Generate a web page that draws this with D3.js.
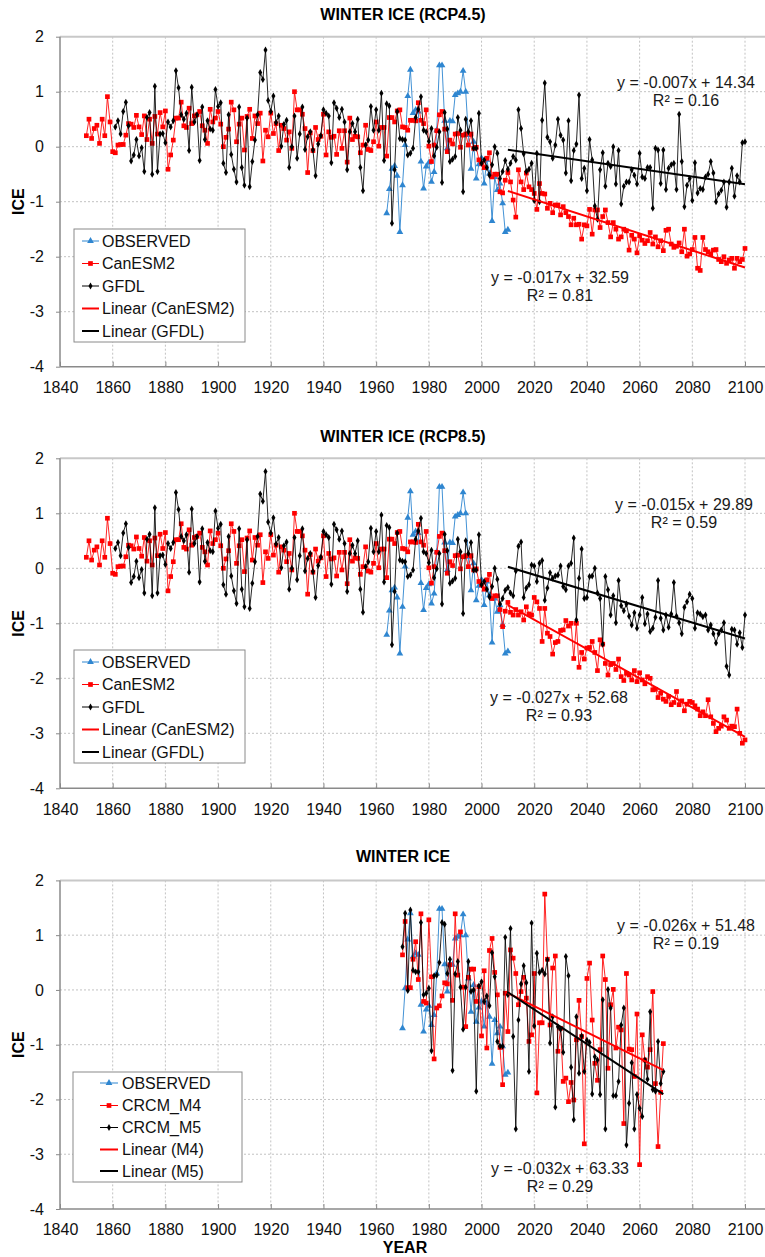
<!DOCTYPE html>
<html>
<head>
<meta charset="utf-8">
<script src="https://cdn.jsdelivr.net/npm/d3@7"></script>
<style>
  body { margin: 0; background: #fff; }
  svg { display: block; font-family: "Liberation Sans", Arial, sans-serif; }
</style>
</head>
<body>
<svg id="chart" width="765" height="1257"></svg>
<script>
// tick labels
var xTicks = d3.range(1840, 2101, 20);
var yTicks = [-4, -3, -2, -1, 0, 1, 2];

// observed winter ice, 1964-2010
var obsStart = 1964;
var observed = [-1.21,-0.77,-0.40,-0.35,-0.53,-1.55,-0.70,0.03,0.92,1.40,
  0.61,0.67,0.64,-0.27,-0.76,-0.36,-0.29,-0.64,-0.46,0.30,
  1.48,1.48,0.47,-0.03,0.47,0.46,0.94,0.97,1.00,1.38,
  1.00,0.21,-0.40,0.09,-0.58,-0.32,-0.21,-0.67,-0.24,-0.49,
  -1.35,-0.55,-0.79,-0.67,-1.03,-1.55,-1.51];

// CanESM2 historical run, 1850-2005
var canStart = 1850;
var canHist = [0.20,0.50,0.15,0.33,0.39,0.06,0.50,0.20,0.91,0.45,
  -0.09,-0.11,0.03,0.04,0.04,0.21,0.42,0.41,0.35,0.57,
  0.36,0.22,0.56,0.13,0.50,0.06,0.55,0.23,0.62,0.36,
  0.65,-0.41,-0.15,0.12,0.52,0.52,0.81,0.38,0.35,0.70,
  0.42,0.56,0.58,0.64,0.38,0.30,0.06,0.68,0.45,0.52,
  0.64,0.41,0.00,0.17,0.32,0.81,0.67,0.09,0.41,0.52,
  -0.06,0.55,0.68,0.15,0.56,0.42,0.61,-0.26,0.30,0.18,
  0.61,0.24,0.42,-0.07,0.39,0.33,0.12,0.27,-0.03,1.00,
  0.67,0.67,0.59,0.33,-0.47,0.25,-0.07,0.35,0.13,0.19,
  0.59,-0.15,0.27,0.17,0.19,-0.14,0.29,-0.03,0.29,-0.28,
  0.52,0.13,0.19,0.18,-0.11,0.03,0.39,-0.05,-0.07,0.09,
  0.45,0.01,0.35,0.35,-0.17,0.53,0.53,0.45,0.65,0.67,
  0.36,0.35,0.30,0.48,0.48,0.47,0.80,0.48,0.42,0.67,
  0.01,-0.27,0.03,0.29,0.58,0.64,0.32,-0.09,0.12,0.05,
  0.23,0.24,-0.01,0.21,0.23,0.03,0.23,-0.03,-0.01,-0.24,
  -0.30,-0.38,-0.21,-0.11,-0.55,-0.50];

// GFDL historical run, 1861-2005
var gfdlStart = 1861;
var gfdlHist = [0.36,0.47,0.23,0.64,0.81,0.38,-0.26,-0.15,0.13,-0.17,
  -0.02,-0.45,0.53,0.62,-0.50,1.10,-0.45,0.23,0.24,0.07,
  0.45,0.36,0.47,1.38,1.07,0.58,0.50,0.61,-0.07,1.08,
  0.45,0.58,-0.25,0.72,0.13,0.47,0.32,0.30,1.04,0.73,
  0.80,-0.30,-0.47,0.58,-0.14,-0.41,-0.64,0.72,-0.38,-0.70,
  0.52,-0.73,-0.27,0.12,0.58,1.35,1.22,1.76,0.84,0.64,
  0.92,0.44,0.56,0.01,0.41,0.48,-0.38,0.00,0.56,
  -0.21,0.23,0.72,-0.05,0.18,0.27,-0.06,-0.53,0.05,0.20,
  0.67,0.61,0.56,-0.29,0.80,0.70,0.53,0.68,0.45,-0.42,
  0.27,0.42,0.27,0.50,-0.38,-0.80,0.03,0.12,0.73,0.30,
  0.67,0.30,0.97,-0.25,0.78,0.74,-1.39,-0.42,0.64,0.15,
  0.13,0.12,-0.15,-0.12,-0.03,0.53,0.68,0.91,0.30,0.27,
  0.10,0.33,-0.17,-0.01,0.27,-0.65,0.62,0.32,-0.27,-0.23,
  -0.18,0.53,0.30,-0.82,0.50,0.27,0.47,-0.03,-0.03,0.61,
  -0.30,-0.24,-0.38,-0.52,-0.33,0.00];

// RCP4.5 projections, 2006-2100
var can45 = [-0.50,-0.82,-0.84,-0.61,-0.47,-0.64,-0.97,-1.28,
  -0.42,-0.64,-0.78,-0.48,-0.73,-0.78,-0.85,-1.14,-0.67,-0.85,
  -0.86,-1.12,-1.03,-1.20,-1.06,-1.06,-1.24,-1.09,-1.20,-1.27,
  -1.42,-1.30,-1.42,-1.41,-1.68,-1.42,-1.44,-1.14,-1.59,-1.15,
  -1.15,-1.47,-1.27,-1.15,-1.38,-1.64,-1.38,-1.50,-1.68,-1.64,
  -1.50,-1.53,-1.88,-1.61,-1.68,-1.93,-1.62,-1.70,-1.76,-1.71,
  -1.56,-1.77,-1.64,-1.82,-1.71,-1.89,-1.52,-1.50,-1.77,-1.83,
  -1.81,-1.75,-1.91,-1.50,-1.99,-1.95,-1.87,-1.65,-2.21,-2.25,
  -1.65,-1.87,-1.91,-1.95,-1.88,-1.87,-2.05,-2.09,-2.00,-2.12,
  -2.06,-2.03,-2.21,-2.03,-2.09,-2.05,-1.85];
var gfdl45 = [-0.12,-0.58,-0.45,-0.25,-0.41,-0.30,-0.18,-0.24,
  0.67,0.33,-0.13,-0.45,-0.41,-0.30,-0.98,-0.12,-1.00,0.48,
  1.16,0.17,0.09,-0.21,0.03,0.50,0.21,0.12,-0.48,0.47,
  -0.62,-0.07,0.05,0.94,-0.58,-0.39,-0.80,0.13,-0.24,-1.08,
  -1.32,-0.42,-0.11,-0.72,-0.30,-0.36,0.00,-0.68,-0.07,-1.04,
  -0.72,-0.64,-0.64,-0.42,-0.52,-0.68,-0.12,-0.55,-0.58,-0.38,
  -0.38,-1.12,-0.03,-0.06,-0.67,-0.06,-0.78,-0.39,-0.33,-0.30,
  -0.78,0.59,-0.27,-1.09,-0.70,-0.58,-0.98,-0.29,-0.84,-0.76,
  -0.78,-0.55,-0.50,-0.27,-0.48,-1.00,-0.86,-0.79,-0.64,-1.10,
  -0.64,-0.39,-0.90,-0.53,-0.64,0.07,0.09];

// RCP8.5 projections, 2006-2100
var can85 = [-0.50,-0.75,-1.06,-0.78,-0.62,-0.80,-0.85,-0.75,-0.85,
  -0.79,-0.94,-0.70,-0.83,-0.85,-0.53,-0.61,-0.73,-1.33,-0.73,
  -1.18,-1.24,-1.56,-1.35,-1.33,-1.13,-1.12,-0.95,-1.05,-1.00,
  -1.64,-1.00,-1.80,-1.53,-1.65,-1.45,-1.44,-1.33,-1.53,-1.86,
  -1.30,-1.38,-1.73,-1.94,-1.75,-1.73,-1.84,-1.65,-1.97,-2.04,
  -1.91,-1.94,-2.03,-1.86,-2.06,-1.90,-2.03,-2.10,-1.97,-2.00,
  -2.21,-2.20,-2.35,-2.27,-2.38,-2.42,-2.33,-2.48,-2.44,-2.24,
  -2.48,-2.41,-2.59,-2.47,-2.42,-2.44,-2.50,-2.56,-2.68,-2.61,
  -2.68,-2.39,-2.70,-2.82,-2.97,-2.91,-2.87,-2.70,-2.76,-2.91,
  -2.87,-2.88,-2.56,-3.00,-3.18,-3.12];
var gfdl85 = [-0.20,-0.65,-0.55,-0.40,-0.35,-0.45,-0.50,-0.05,0.40,
  0.48,-0.53,-0.36,-0.30,0.06,0.04,-0.24,0.09,0.14,-0.58,
  -0.36,-0.08,-0.18,-0.14,-0.12,0.04,-0.33,-0.39,0.04,0.09,
  0.55,-0.94,-0.18,0.35,-0.55,-0.53,-0.15,-0.14,0.00,-0.45,
  -0.55,-1.38,-0.15,-0.39,-0.85,-0.50,-0.99,-0.22,-0.68,-0.77,
  -0.65,-0.87,-1.03,-0.81,-1.09,-0.85,-0.53,-1.01,-0.83,-1.15,
  -1.09,-0.89,-0.22,-0.91,-1.12,-0.85,-1.07,-0.83,-0.26,-0.87,
  -0.99,-1.19,-0.71,-0.61,-0.47,-0.55,-1.09,-0.81,-0.83,-0.88,
  -0.85,-1.12,-1.03,-1.19,-1.36,-1.19,-1.12,-0.99,-1.78,-1.94,
  -1.11,-1.12,-1.38,-1.17,-1.44,-0.85];

// CRCM regional runs, 1970-2069
var crcmStart = 1970;
var crcmM4 = [0.64,1.25,0.04,0.04,0.56,0.88,0.19,1.39,-0.21,-0.24,
  1.28,0.24,-1.26,-0.33,-0.29,-0.11,0.13,0.11,0.46,-0.19,
  1.39,0.27,1.06,0.05,-0.67,0.23,0.38,0.38,-0.21,0.06,
  -0.84,0.35,-1.06,0.72,0.94,0.32,-0.09,-1.05,-1.73,-0.06,
  -0.76,0.73,0.58,0.30,-0.27,-0.03,0.23,-0.15,-0.94,-0.82,
  0.30,-1.88,-0.60,-0.60,1.75,0.56,-0.64,0.40,0.62,-1.12,
  -0.70,-1.67,-1.61,-2.04,-1.69,-2.01,-0.91,-0.19,-0.85,-2.81,
  0.21,0.49,-0.55,-1.34,-1.65,-1.09,0.62,0.19,-1.43,-0.27,
  0.01,-1.06,-0.68,-0.73,-2.44,0.30,-1.08,-1.09,-1.58,-0.44,
  -3.19,-0.82,-1.28,-1.41,-1.09,-0.03,-1.71,-2.86,-1.87,-0.98];
var crcmM5 = [0.79,1.40,-0.01,1.46,0.36,0.33,0.33,1.23,-0.09,-0.06,
  0.03,-1.11,0.26,0.27,0.50,1.23,1.20,0.30,0.56,-1.47,
  0.29,0.52,0.05,-0.72,0.05,0.52,-0.03,0.00,-1.85,0.07,
  0.15,-0.21,-0.11,-0.29,0.68,0.24,-0.94,-1.03,-1.03,0.96,
  -0.09,1.12,-0.85,-2.54,-0.55,0.11,0.44,0.13,-1.49,1.22,
  -0.66,0.67,0.32,0.36,0.29,0.55,-0.97,-0.49,-2.14,-0.67,
  -0.72,-1.14,0.61,0.26,-1.41,-2.37,-0.49,-1.52,-0.84,-1.49,
  -0.92,-0.96,-1.90,-1.22,-1.28,-1.91,-0.18,-2.54,0.01,-0.33,
  -1.93,-1.93,-1.67,-0.64,-0.33,-2.83,-2.07,-1.33,-2.54,-1.91,
  -2.16,-2.31,-1.28,-1.63,-0.40,-1.82,-1.85,-0.94,-1.71,-1.49];

var trendFrom = 2010;

function toPoints(start, values) {
  return values.map(function (v, i) { return { year: start + i, value: v }; });
}

var obsPts = toPoints(obsStart, observed);

var panels = [
  {
    title: "WINTER ICE (RCP4.5)", titleY: 20, top: 36.7, bottom: 366.7,
    series: [
      { name: "OBSERVED", pts: obsPts, color: "#2f86d0", mark: "tri" },
      { name: "CanESM2", pts: toPoints(canStart, canHist.concat(can45)), color: "#ff0000", mark: "sq", trend: true },
      { name: "GFDL", pts: toPoints(gfdlStart, gfdlHist.concat(gfdl45)), color: "#000000", mark: "dia", trend: true }
    ],
    trendNames: ["Linear (CanESM2)", "Linear (GFDL)"],
    eqTop: ["y = -0.007x + 14.34", "R\u00b2 = 0.16"], eqTopPos: [686, 88],
    eqBot: ["y = -0.017x + 32.59", "R\u00b2 = 0.81"], eqBotPos: [560, 283],
    legend: { x: 74, y: 229, w: 171, h: 113, s1: 82, s2: 99, tx: 102, rows: [241, 263.5, 286, 308.5, 331] }
  },
  {
    title: "WINTER ICE (RCP8.5)", titleY: 442, top: 458.3, bottom: 788.3,
    series: [
      { name: "OBSERVED", pts: obsPts, color: "#2f86d0", mark: "tri" },
      { name: "CanESM2", pts: toPoints(canStart, canHist.concat(can85)), color: "#ff0000", mark: "sq", trend: true },
      { name: "GFDL", pts: toPoints(gfdlStart, gfdlHist.concat(gfdl85)), color: "#000000", mark: "dia", trend: true }
    ],
    trendNames: ["Linear (CanESM2)", "Linear (GFDL)"],
    eqTop: ["y = -0.015x + 29.89", "R\u00b2 = 0.59"], eqTopPos: [684, 510],
    eqBot: ["y = -0.027x + 52.68", "R\u00b2 = 0.93"], eqBotPos: [559, 703],
    legend: { x: 74, y: 650, w: 171, h: 113, s1: 82, s2: 99, tx: 102, rows: [662, 684.5, 707, 729.5, 752] }
  },
  {
    title: "WINTER ICE", titleY: 862, top: 880.4, bottom: 1209,
    series: [
      { name: "OBSERVED", pts: obsPts.filter(function (d) { return d.year >= crcmStart; }), color: "#2f86d0", mark: "tri" },
      { name: "CRCM_M4", pts: toPoints(crcmStart, crcmM4), color: "#ff0000", mark: "sq", trend: true },
      { name: "CRCM_M5", pts: toPoints(crcmStart, crcmM5), color: "#000000", mark: "dia", trend: true }
    ],
    trendNames: ["Linear (M4)", "Linear (M5)"],
    eqTop: ["y = -0.026x + 51.48", "R\u00b2 = 0.19"], eqTopPos: [686, 931],
    eqBot: ["y = -0.032x + 63.33", "R\u00b2 = 0.29"], eqBotPos: [560, 1174],
    legend: { x: 73, y: 1072, w: 169, h: 110, s1: 100, s2: 118, tx: 122, rows: [1083, 1105.5, 1127.5, 1149.5, 1171] }
  }
];

var svg = d3.select("#chart");
svg.append("rect").attr("width", 765).attr("height", 1257).attr("fill", "#fff");

var x = d3.scaleLinear().domain([1840, 2100]).range([60, 745]);

function markPath(kind) {
  if (kind === "tri") return d3.symbol().type(d3.symbolTriangle).size(20)();
  if (kind === "dia") return d3.symbol().type(d3.symbolDiamond).size(14)();
  return d3.symbol().type(d3.symbolSquare).size(22)();
}

// least squares fit over the projection years
function fit(pts) {
  var xs = pts.map(function (d) { return d.year; });
  var ys = pts.map(function (d) { return d.value; });
  var mx = d3.mean(xs), my = d3.mean(ys);
  var sxy = d3.sum(xs, function (v, i) { return (v - mx) * (ys[i] - my); });
  var sxx = d3.sum(xs, function (v) { return (v - mx) * (v - mx); });
  var b = sxy / sxx;
  return function (yr) { return my + b * (yr - mx); };
}

panels.forEach(function (p) {
  var y = d3.scaleLinear().domain([-4, 2]).range([p.bottom, p.top]);
  var g = svg.append("g");

  // title
  g.append("text").attr("x", 403).attr("y", p.titleY)
    .attr("text-anchor", "middle").attr("font-size", 16).attr("font-weight", "bold")
    .text(p.title);

  // grid
  g.selectAll(".vg").data(xTicks.slice(1)).enter().append("line")
    .attr("x1", function (d) { return x(d); }).attr("x2", function (d) { return x(d); })
    .attr("y1", p.top).attr("y2", p.bottom)
    .attr("stroke", "#c2c2c2").attr("stroke-width", 1).attr("stroke-dasharray", "2,2");
  g.selectAll(".hg").data(yTicks.slice(1, -1)).enter().append("line")
    .attr("x1", 60).attr("x2", 765)
    .attr("y1", function (d) { return y(d); }).attr("y2", function (d) { return y(d); })
    .attr("stroke", "#c2c2c2").attr("stroke-width", 1).attr("stroke-dasharray", "2,2");

  // frame
  g.append("line").attr("x1", 60).attr("x2", 765).attr("y1", p.top).attr("y2", p.top)
    .attr("stroke", "#c8c8c8").attr("stroke-width", 2);

  // axes
  var ax = g.append("g").attr("transform", "translate(0," + p.bottom + ")")
    .call(d3.axisBottom(x).tickValues(xTicks).tickFormat(function (d) { return String(d); })
      .tickSizeInner(-5).tickSizeOuter(0).tickPadding(15));
  var ay = g.append("g").attr("transform", "translate(60,0)")
    .call(d3.axisLeft(y).tickValues(yTicks).tickFormat(function (d) { return String(d); })
      .tickSizeInner(4).tickSizeOuter(0).tickPadding(12));
  [ax, ay].forEach(function (a) {
    a.select(".domain").remove();
    a.selectAll("line").attr("stroke", "#888");
    a.selectAll("text").attr("font-size", 16).attr("fill", "#111")
      .attr("font-family", "\"Liberation Sans\", Arial, sans-serif");
  });
  g.append("line").attr("x1", 60).attr("x2", 765).attr("y1", p.bottom).attr("y2", p.bottom)
    .attr("stroke", "#8a8a8a").attr("stroke-width", 1.5);
  g.append("line").attr("x1", 60).attr("x2", 60).attr("y1", p.top).attr("y2", p.bottom)
    .attr("stroke", "#8a8a8a").attr("stroke-width", 1.5);

  // axis title
  g.append("text")
    .attr("transform", "translate(24," + ((p.top + p.bottom) / 2) + ") rotate(-90)")
    .attr("text-anchor", "middle").attr("font-size", 16).attr("font-weight", "bold")
    .text("ICE");

  // series
  var line = d3.line().x(function (d) { return x(d.year); }).y(function (d) { return y(d.value); });
  p.series.forEach(function (s) {
    g.append("path").datum(s.pts).attr("d", line)
      .attr("fill", "none").attr("stroke", s.color).attr("stroke-width", 1)
      .attr("stroke-opacity", s.mark === "tri" ? 0.9 : 0.85);
    g.selectAll(null).data(s.pts).enter().append("path")
      .attr("d", markPath(s.mark))
      .attr("transform", function (d) { return "translate(" + x(d.year) + "," + y(d.value) + ")"; })
      .attr("fill", s.color);
  });

  // trend lines
  p.series.filter(function (s) { return s.trend; }).forEach(function (s) {
    var sub = s.pts.filter(function (d) { return d.year >= trendFrom; });
    var f = fit(sub);
    var x0 = trendFrom, x1 = sub[sub.length - 1].year;
    g.append("line")
      .attr("x1", x(x0)).attr("y1", y(f(x0)))
      .attr("x2", x(x1)).attr("y2", y(f(x1)))
      .attr("stroke", s.color).attr("stroke-width", 2);
  });

  // equations
  [[p.eqTop, p.eqTopPos], [p.eqBot, p.eqBotPos]].forEach(function (e) {
    e[0].forEach(function (t, i) {
      g.append("text").attr("x", e[1][0]).attr("y", e[1][1] + i * 18)
        .attr("text-anchor", "middle").attr("font-size", 16).attr("fill", "#1a1a1a")
        .text(t);
    });
  });

  // legend
  var L = p.legend;
  var lg = g.append("g");
  lg.append("rect").attr("x", L.x).attr("y", L.y).attr("width", L.w).attr("height", L.h)
    .attr("fill", "#fff").attr("stroke", "#8a8a8a").attr("stroke-width", 1);
  var entries = p.series.map(function (s) { return { name: s.name, color: s.color, mark: s.mark }; })
    .concat([{ name: p.trendNames[0], color: "#ff0000", trend: true },
             { name: p.trendNames[1], color: "#000000", trend: true }]);
  entries.forEach(function (e, i) {
    var ry = L.rows[i];
    lg.append("line").attr("x1", L.s1).attr("x2", L.s2).attr("y1", ry).attr("y2", ry)
      .attr("stroke", e.color).attr("stroke-width", e.trend ? 2 : 1);
    if (!e.trend) {
      lg.append("path").attr("d", markPath(e.mark))
        .attr("transform", "translate(" + ((L.s1 + L.s2) / 2) + "," + ry + ")")
        .attr("fill", e.color);
    }
    lg.append("text").attr("x", L.tx).attr("y", ry).attr("dy", "0.35em")
      .attr("font-size", 16).attr("fill", "#111").text(e.name);
  });
});

// bottom axis title
svg.append("text").attr("x", 405).attr("y", 1253)
  .attr("text-anchor", "middle").attr("font-size", 16).attr("font-weight", "bold")
  .text("YEAR");
</script>
</body>
</html>
